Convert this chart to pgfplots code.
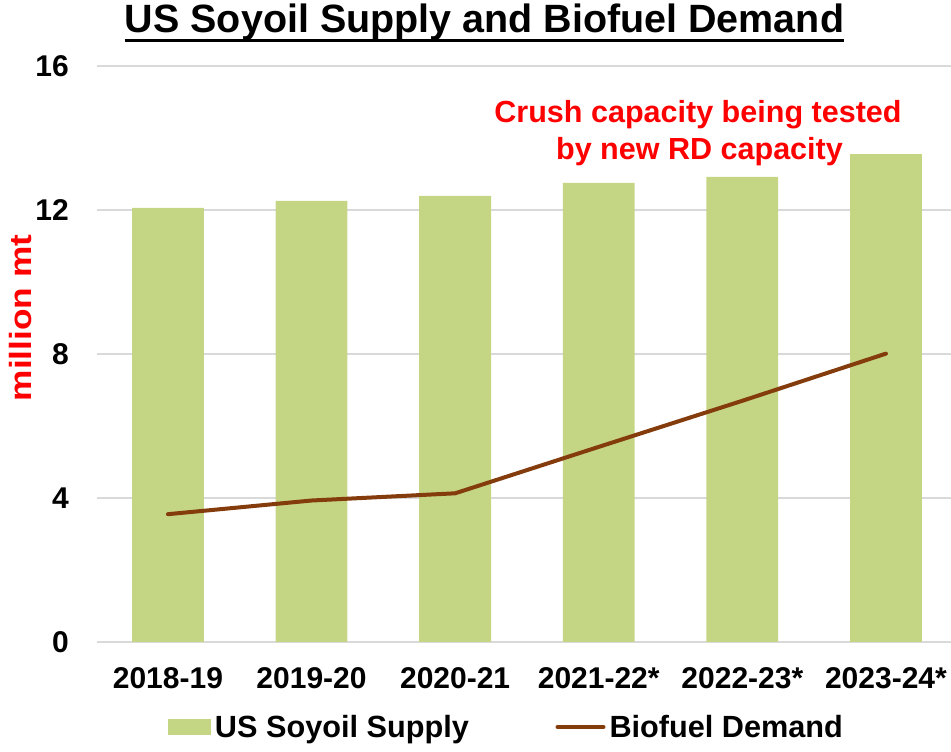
\documentclass[border=0pt]{standalone}
\usepackage{fontspec}
\setmainfont{Liberation Sans}
\usepackage{pgfplots}
\pgfplotsset{compat=1.18}
\definecolor{soy}{RGB}{196,214,132}
\definecolor{bio}{RGB}{132,60,12}
\definecolor{gridc}{RGB}{217,217,217}
\begin{document}
\begin{tikzpicture}[x=0.75pt,y=0.75pt]
\path[use as bounding box] (0,0) rectangle (951,752);
\begin{axis}[
  at={(72.75pt,82.5pt)}, anchor=south west,
  scale only axis, width=640.5pt, height=432pt,
  xmin=-0.494, xmax=5.453, ymin=0, ymax=16,
  xtick={0,1,2,3,4,5},
  xticklabels={2018-19,2019-20,2020-21,2021-22*,2022-23*,2023-24*},
  ytick={0,4,8,12,16},
  yticklabels={0,4,8,12,16},
  ymajorgrids,
  grid style={line width=1.5pt, color=gridc},
  axis line style={draw=none},
  major tick length=0pt,
  tick style={draw=none},
  ticklabel style={font=\bfseries\fontsize{22.5}{27}\selectfont, inner sep=0pt},
  yticklabel style={anchor=east, xshift=-21pt},
  xticklabel style={anchor=north, yshift=-18.75pt},
  clip=false,
  legend columns=2,
  legend style={at={(0.4783,-0.1476)}, anchor=center, draw=none,
    font=\bfseries\fontsize{23}{27}\selectfont,
    nodes={inner sep=0pt},
    /tikz/every odd column/.append style={column sep=3pt},
    /tikz/every even column/.append style={column sep=65pt}},
]
\addplot[ybar, bar width=0.5, fill=soy, draw=none,
  legend image code/.code={\fill[soy] (0pt,-6pt) rectangle (32.25pt,6pt);}]
  coordinates {(0,12.06) (1,12.25) (2,12.39) (3,12.75) (4,12.92) (5,13.55)};
\addlegendentry{US Soyoil Supply}
\addplot[bio, line width=3pt, line join=round, line cap=round,
  legend image code/.code={\draw[bio, line width=3pt, line cap=round] (0pt,0pt) -- (34.5pt,0pt);}]
  coordinates {(0,3.55) (1,3.93) (2,4.13) (3,5.42) (4,6.70) (5,8.01)};
\addlegendentry{Biofuel Demand}
\end{axis}
\node[anchor=base, inner sep=0pt, font=\bfseries\fontsize{29.6}{34}\selectfont] (T) at (484.5,719) {US Soyoil Supply and Biofuel Demand};
\draw[line width=2.25pt] ([yshift=-6pt]T.base west) -- ([yshift=-6pt]T.base east);
\node[anchor=base, inner sep=0pt, text=red, font=\bfseries\fontsize{22.9}{27}\selectfont] at (698,629) {Crush capacity being tested};
\node[anchor=base, inner sep=0pt, text=red, font=\bfseries\fontsize{22.9}{27}\selectfont] at (699.5,592) {by new RD capacity};
\node[rotate=90, inner sep=0pt, text=red, font=\bfseries\fontsize{23}{27}\selectfont] at (21,434) {\scalebox{1.15}[1]{million mt}};
\end{tikzpicture}
\end{document}
